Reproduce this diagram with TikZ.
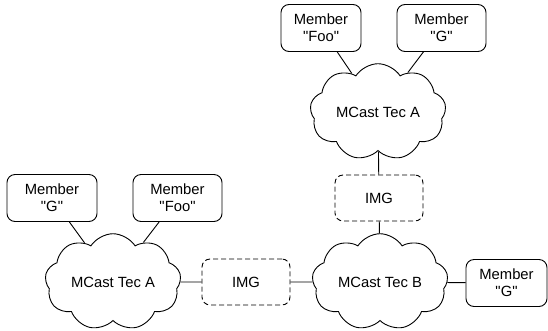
\documentclass[tikz,border=0pt]{standalone}
\usepackage{fontspec}
\setmainfont{Liberation Sans}
\usetikzlibrary{shapes.symbols}
\newcommand{\qt}[1]{\textquotedbl#1\textquotedbl}

\begin{document}
\begin{tikzpicture}[x=1pt,y=-1pt,line width=0.9pt,
  font=\fontsize{14.8}{17}\selectfont,
  member/.style={draw,rounded corners=8pt,align=center,minimum height=47pt,inner sep=0pt},
  imgbox/.style={draw,dashed,dash pattern=on 5pt off 3pt,rounded corners=8pt,minimum width=88pt,minimum height=46pt,inner sep=0pt},
  mcast/.style={draw,cloud,cloud puffs=9,cloud puff arc=115,aspect=1.5,minimum width=136pt,minimum height=90pt,inner sep=0pt}]
\useasboundingbox (0,0) rectangle (548,330);
\node[mcast] (tecAtop) at (378,112) {MCast Tec A};
\node[mcast] (tecAbot) at (113,282) {MCast Tec A};
\node[mcast] (tecB) at (380,282) {MCast Tec B};
\node[member,minimum width=80pt] (fooTop) at (321,28) {Member\\\qt{Foo}};
\node[member,minimum width=89pt] (gTop) at (441.5,28) {Member\\\qt{G}};
\node[member,minimum width=90pt] (gLeft) at (52,198) {Member\\\qt{G}};
\node[member,minimum width=89pt] (fooLeft) at (177.5,198) {Member\\\qt{Foo}};
\node[member,minimum width=81pt] (gRight) at (506.5,283) {Member\\\qt{G}};
\node[imgbox] (imgTop) at (379,198) {IMG};
\node[imgbox] (imgBot) at (246,282) {IMG};
\draw (fooTop) -- (tecAtop);
\draw (gTop) -- (tecAtop);
\draw (tecAtop) -- (imgTop);
\draw (imgTop) -- (tecB);
\draw (gLeft) -- (tecAbot);
\draw (fooLeft) -- (tecAbot);
\draw (tecAbot) -- (imgBot);
\draw (imgBot) -- (tecB);
\draw (tecB) -- (gRight);
\end{tikzpicture}
\end{document}
